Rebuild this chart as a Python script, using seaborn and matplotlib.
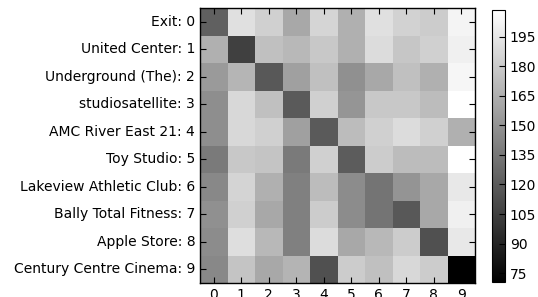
import numpy as np
import pandas as pd
import matplotlib
matplotlib.use("Agg")
import matplotlib.pyplot as plt
import seaborn as sns

row_labels = ["Exit: 0", "United Center: 1", "Underground (The): 2", "studiosatellite: 3",
              "AMC River East 21: 4", "Toy Studio: 5", "Lakeview Athletic Club: 6",
              "Bally Total Fitness: 7", "Apple Store: 8", "Century Centre Cinema: 9"]
col_labels = ["0", "1", "2", "3", "4", "5", "6", "7", "8", "9"]

row0 = [122.5, 191.7, 183.1, 161.4, 185.8, 165.8, 191.7, 184.2, 180.9, 202.5]
row1 = [165.8, 105.1, 174.4, 170.1, 178.7, 165.8, 189.6, 177.7, 183.1, 200.4]
row2 = [153.8, 168.5, 118.1, 157.1, 174.4, 148.4, 161.4, 174.4, 165.8, 203.6]
row3 = [147.3, 187.4, 174.4, 119.2, 183.1, 151.1, 178.7, 178.7, 172.2, 208.5]
row4 = [147.3, 187.4, 183.1, 157.1, 119.2, 172.2, 183.1, 189.6, 183.1, 165.8]
row5 = [136.5, 178.7, 176.6, 136.5, 183.1, 120.3, 180.9, 172.2, 172.2, 208.5]
row6 = [144.1, 185.2, 165.8, 139.8, 172.2, 146.3, 133.3, 150.6, 161.4, 196.1]
row7 = [148.4, 183.1, 161.4, 139.8, 180.9, 146.3, 133.3, 118.1, 161.4, 200.4]
row8 = [146.3, 190.6, 170.1, 139.8, 189.6, 161.4, 170.1, 180.9, 113.8, 196.1]
row9 = [144.1, 176.6, 161.4, 167.9, 113.8, 180.9, 174.4, 187.4, 180.9, 70.5]
cbar_ticks = [75, 90, 105, 120, 135, 150, 165, 180, 195]

data = pd.DataFrame([row0, row1, row2, row3, row4, row5, row6, row7, row8, row9],
                    index=row_labels, columns=col_labels)

plt.rcParams['font.family'] = ['DejaVu Sans']
fig = plt.figure(figsize=(5.38, 2.97), dpi=100)
ax = fig.add_axes([200/538, 1-283/297, 275/538, 275/297])
cax = fig.add_axes([492/538, 1-282/297, 13/538, 272/297])

sns.heatmap(data, cmap="gray", ax=ax, cbar_ax=cax, vmin=data.values.min(),
            vmax=data.values.max(), cbar_kws={"ticks": cbar_ticks})

for s in ax.spines.values():
    s.set_visible(True)
    s.set_linewidth(1.0)
    s.set_color("black")
ax.tick_params(direction="in", top=True, right=True, bottom=True, left=True,
               labelsize=10, length=4, width=0.8, labelrotation=0)
ax.set_yticklabels(row_labels, rotation=0)
ax.set_xticklabels(col_labels, rotation=0)
ax.set_xlabel("")
ax.set_ylabel("")

cb = ax.collections[0].colorbar
cb.outline.set_linewidth(0.8)
cb.outline.set_edgecolor("black")
cax.tick_params(direction="in", labelsize=10, length=4, width=0.8, right=True)

fig.savefig("out.png", dpi=100)
